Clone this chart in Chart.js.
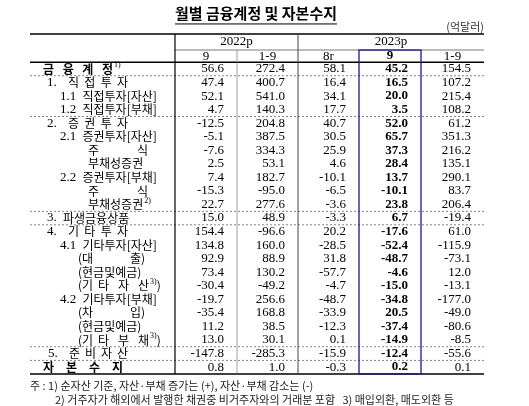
<!DOCTYPE html>
<html><head><meta charset="utf-8">
<script src="https://cdn.jsdelivr.net/npm/chart.js@4"></script>
<style>html,body{margin:0;padding:0;background:#fff}#w{width:529px;height:406px}</style>
</head><body><div id="w"><canvas id="c"></canvas></div>
<script>
const title = "월별 금융계정 및 자본수지";
const unitLabel = "(억달러)";
const yearLabels = ["2022p", "2023p"];
const periodLabels = ["9", "1-9", "8r", "9", "1-9"];
const rowLabels = ["금|융|계|정","1. 직|접|투|자","1.1 직접투자[자산]","1.2 직접투자[부채]","2. 증|권|투|자","2.1 증권투자[자산]","주|식","부채성증권","2.2 증권투자[부채]","주|식","부채성증권","3. 파생금융상품","4. 기|타|투|자","4.1 기타투자[자산]","(대|출)","(현금및예금)","(기|타|자|산","4.2 기타투자[부채]","(차|입)","(현금및예금)","(기|타|부|채","5. 준|비|자|산","자|본|수|지"];
const rowSup = ["1)","","","","","","","","","","2)","","","","","","3)","","","","3)","",""];
const y2022_9 = [56.6,47.4,52.1,4.7,-12.5,-5.1,-7.6,2.5,7.4,-15.3,22.7,15.0,154.4,134.8,92.9,73.4,-30.4,-19.7,-35.4,11.2,13.0,-147.8,0.8];
const y2022_1_9 = [272.4,400.7,541.0,140.3,204.8,387.5,334.3,53.1,182.7,-95.0,277.6,48.9,-96.6,160.0,88.9,130.2,-49.2,256.6,168.8,38.5,30.1,-285.3,1.0];
const y2023_8r = [58.1,16.4,34.1,17.7,40.7,30.5,25.9,4.6,-10.1,-6.5,-3.6,-3.3,20.2,-28.5,31.8,-57.7,-4.7,-48.7,-33.9,-12.3,0.1,-15.9,-0.3];
const y2023_9 = [45.2,16.5,20.0,3.5,52.0,65.7,37.3,28.4,13.7,-10.1,23.8,6.7,-17.6,-52.4,-48.7,-4.6,-15.0,-34.8,20.5,-37.4,-14.9,-12.4,0.2];
const y2023_1_9 = [154.5,107.2,215.4,108.2,61.2,351.3,216.2,135.1,290.1,83.7,206.4,-19.4,61.0,-115.9,-73.1,12.0,-13.1,-177.0,-49.0,-80.6,-8.5,-55.6,0.1];
const notes = ["주 : 1) 순자산 기준, 자산·부채 증가는 (+), 자산·부채 감소는 (-)","2) 거주자가 해외에서 발행한 채권중 비거주자와의 거래분 포함   3) 매입외환, 매도외환 등"];

const series = [y2022_9, y2022_1_9, y2023_8r, y2023_9, y2023_1_9];
// layout (style)
const colEdges = [30,175,237,298,359,421,484];
const labelX = [43,47,60,60,47,60,88,88,60,88,88,47,47,60,78,78,78,60,78,78,78,48,43];
const labelX1 = [113,128,0,0,128,0,148,0,0,148,0,0,128,0,145,0,149,0,145,0,149,128,123];
const closeParen = [false,false,false,false,false,false,false,false,false,false,false,false,false,false,false,false,true,false,false,false,true,false,false];
const dottedAfter = [0,3,10,11,20,21];
const KR = '"Noto Sans CJK KR", sans-serif';
const SERIF = '"Liberation Serif", "DejaVu Serif", serif';

const tablePlugin = {
  id: 'table',
  afterDraw(chart) {
    const ctx = chart.ctx, xs = chart.scales.x, ys = chart.scales.y;
    const X = v => xs.getPixelForValue(v), Y = v => ys.getPixelForValue(v);
    const n = rowLabels.length;
    const L = X(colEdges[0]), R = X(colEdges[6]);
    const top = Y(-2.58), mid = Y(-1.4), hdrBot = Y(-0.5), bot = Y(n - 0.5);
    ctx.save();
    ctx.fillStyle = '#000'; ctx.textBaseline = 'middle';
    ctx.font = 'bold 15px ' + KR; ctx.textAlign = 'center';
    ctx.fillText(title, X(256), Y(-4.1));
    const tw = ctx.measureText(title).width;
    ctx.fillRect(X(256) - tw/2, Y(-4.1) + 10, tw, 1);
    ctx.font = '11px ' + KR; ctx.textAlign = 'right'; ctx.fillStyle = '#333';
    ctx.fillText(unitLabel, R, Y(-3.15));
    const hl = (x0,x1,y,w,c,dash) => { ctx.beginPath(); ctx.setLineDash(dash||[]); ctx.lineWidth=w; ctx.strokeStyle=c; ctx.moveTo(x0,y); ctx.lineTo(x1,y); ctx.stroke(); };
    const vl = (x,y0,y1,w,c) => { ctx.beginPath(); ctx.setLineDash([]); ctx.lineWidth=w; ctx.strokeStyle=c; ctx.moveTo(x,y0); ctx.lineTo(x,y1); ctx.stroke(); };
    hl(L,R,top,1.5,'#000');
    hl(X(colEdges[1]),R,mid,0.8,'#555');
    hl(L,R,hdrBot,1.5,'#000');
    hl(L,R,bot,1.5,'#000');
    dottedAfter.forEach(i => hl(L,R,Y(i+0.5),0.8,'#666',[2,2]));
    vl(X(colEdges[1]),top,bot,1.2,'#000');
    vl(X(colEdges[3]),top,bot,1,'#444');
    vl(X(colEdges[2]),mid,bot,0.8,'#888');
    ctx.strokeStyle = '#1a1a8c'; ctx.lineWidth = 1.3; ctx.setLineDash([]);
    ctx.strokeRect(X(colEdges[4]), mid, X(colEdges[5]) - X(colEdges[4]), bot - mid);
    ctx.fillStyle = '#000'; ctx.textAlign = 'center'; ctx.font = '13px ' + SERIF;
    ctx.fillText(yearLabels[0], (X(colEdges[1]) + X(colEdges[3]))/2, Y(-2.0));
    ctx.fillText(yearLabels[1], (X(colEdges[3]) + X(colEdges[6]))/2, Y(-2.0));
    periodLabels.forEach((p,j) => {
      ctx.font = (j===3 ? 'bold ' : '') + '13px ' + SERIF;
      ctx.fillText(p, (X(colEdges[j+1]) + X(colEdges[j+2]))/2, Y(-0.95));
    });
    for (let i = 0; i < n; i++) {
      const y = Y(i), bold = (i===0 || i===n-1);
      const parts = rowLabels[i].split('|');
      ctx.textAlign = 'left';
      const drawLbl = (s, x) => {
        const m = s.match(/^([0-9.]+)\s*(.*)$/);
        if (m && m[1].length) {
          ctx.font = '13px ' + SERIF; ctx.fillText(m[1], x, y);
          const w = ctx.measureText(m[1] + ' ').width;
          ctx.font = (bold?'bold ':'') + '12px ' + KR; ctx.fillText(m[2], x + w + 3, y);
          return x + w + 3 + ctx.measureText(m[2]).width;
        }
        ctx.font = (bold?'bold ':'') + '12px ' + KR; ctx.fillText(s, x, y);
        return x + ctx.measureText(s).width;
      };
      let endX;
      if (parts.length > 1 && labelX1[i]) {
        const x0 = X(labelX[i]), x1 = X(labelX1[i]);
        ctx.font = (bold?'bold ':'') + '12px ' + KR;
        const lastW = ctx.measureText(parts[parts.length-1]).width;
        const firstM = parts[0].match(/^([0-9.]+)\s*(.*)$/);
        let startX = x0;
        if (firstM) { startX = drawLbl(firstM[1], x0) + 5; parts[0] = firstM[2]; }
        const step = (x1 - lastW - startX) / (parts.length - 1);
        ctx.font = (bold?'bold ':'') + '12px ' + KR;
        parts.forEach((p,k) => { ctx.fillText(p, startX + k*step, y); });
        endX = x1;
      } else {
        endX = drawLbl(parts.join(''), X(labelX[i]));
      }
      if (rowSup[i]) {
        ctx.font = '8px ' + SERIF; ctx.fillText(rowSup[i], endX + 1, y - 4);
        endX += ctx.measureText(rowSup[i]).width + 1;
      }
      if (closeParen[i]) { ctx.font = '12px ' + KR; ctx.fillText(')', endX, y); }
      ctx.textAlign = 'right';
      series.forEach((s,j) => {
        ctx.font = (j===3 ? 'bold ' : '') + '13px ' + SERIF;
        ctx.fillText(s[i].toFixed(1), X(colEdges[j+2]) - 13, y);
      });
    }
    ctx.textAlign = 'left'; ctx.font = '11px ' + KR; ctx.fillStyle = '#222';
    ctx.fillText(notes[0], X(30), Y(n + 0.35));
    ctx.fillText(notes[1], X(55), Y(n + 1.4));
    ctx.restore();
  }
};

new Chart(document.getElementById('c'), {
  type: 'scatter',
  data: { datasets: [{ data: [] }] },
  plugins: [tablePlugin],
  options: {
    responsive: true, maintainAspectRatio: false, animation: false,
    layout: { padding: 0 },
    plugins: { legend: { display: false }, tooltip: { enabled: false } },
    scales: {
      x: { type: 'linear', min: 0, max: 529, display: false, offset: false },
      y: { type: 'linear', min: -69/13.55, max: (406-69)/13.55, reverse: true, display: false, offset: false }
    }
  }
});
</script></body></html>
